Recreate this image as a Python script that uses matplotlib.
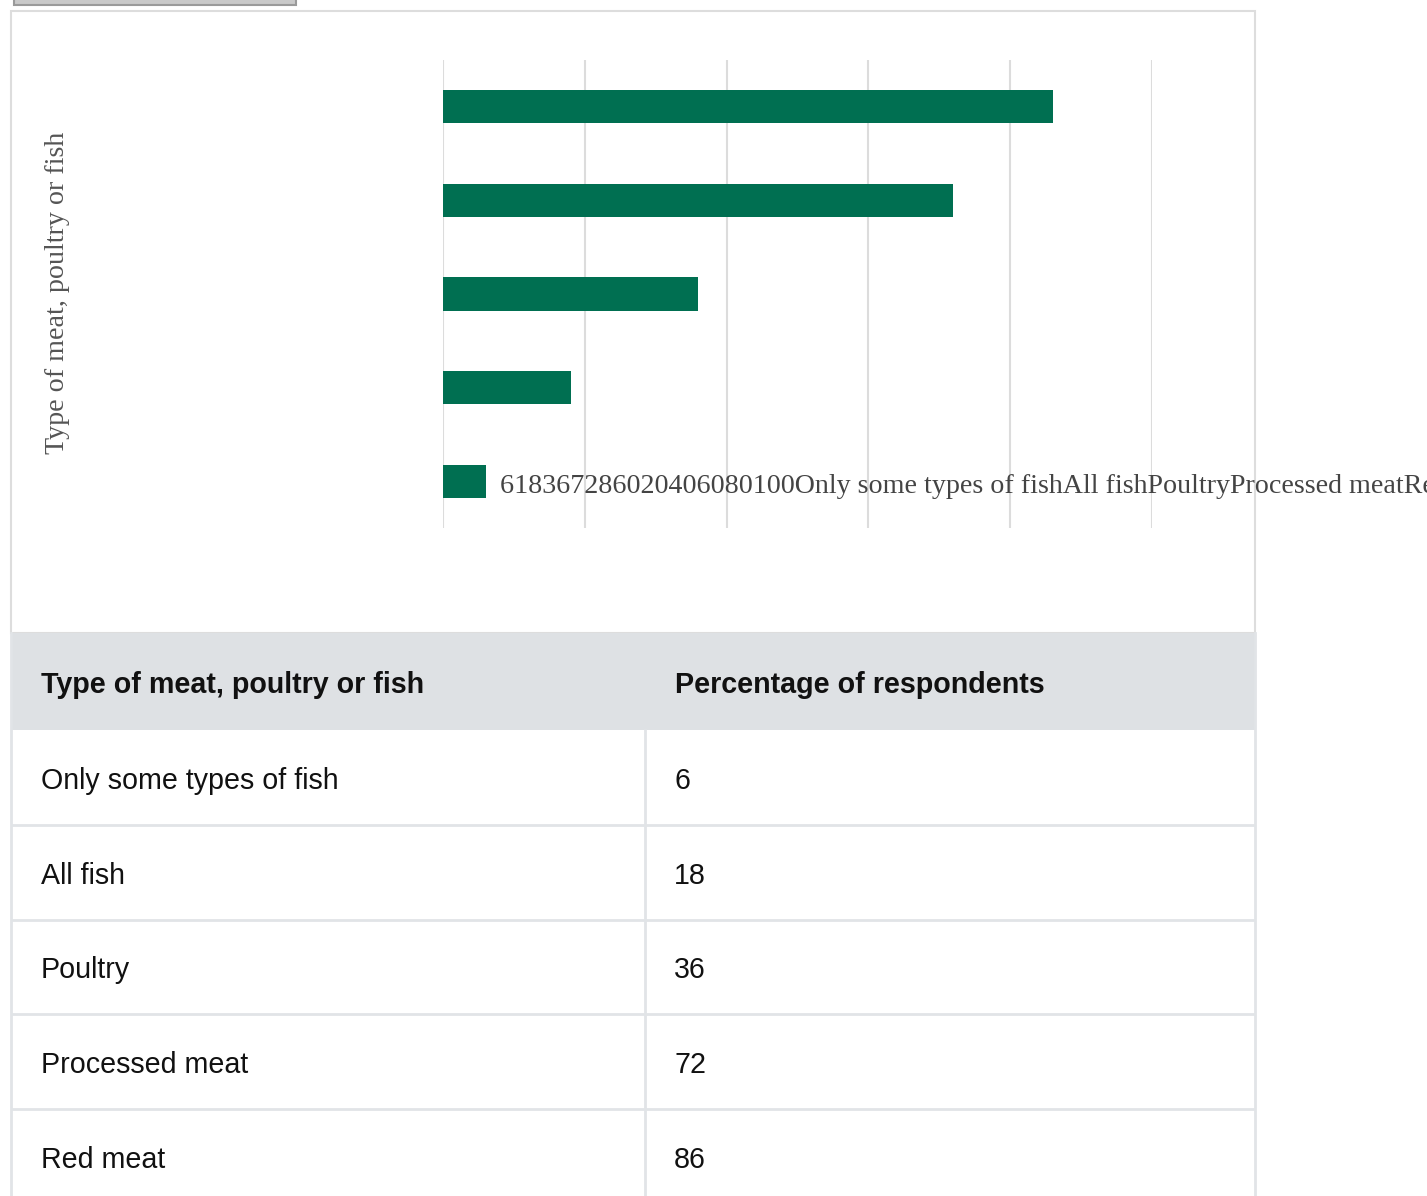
import matplotlib
matplotlib.use("Agg")
import matplotlib.pyplot as plt
from matplotlib.patches import Rectangle

# Share of respondents who avoid each type of meat, poultry or fish
categories = ["Only some types of fish", "All fish", "Poultry", "Processed meat", "Red meat"]
values = [6, 18, 36, 72, 86]
x_ticks = [0, 20, 40, 60, 80, 100]
axis_title = "Type of meat, poultry or fish"
value_header = "Percentage of respondents"

W, H = 1427, 1196
BAR_COLOR = "#006f51"
GRID_COLOR = "#dcdcdc"
LINE_COLOR = "#e1e4e7"
TABLE_FS = 20.6

fig = plt.figure(figsize=(W / 100, H / 100), dpi=100)
fig.patch.set_facecolor("white")

# Background layer in pixel coordinates for frames, table and button
bg = fig.add_axes([0, 0, 1, 1])
bg.set_xlim(0, W)
bg.set_ylim(H, 0)
bg.axis("off")

# Toolbar button stub at the very top
bg.add_patch(Rectangle((14, -4), 282, 9, facecolor="#c9c9c9", edgecolor="#9a9a9a", lw=1.5))

# Chart frame
bg.add_patch(Rectangle((11, 11), 1244, 622, facecolor="white", edgecolor="#dddddd", lw=1.5))

# Table header
bg.add_patch(Rectangle((11, 633), 1244, 97, facecolor="#dee1e4", edgecolor="none"))
bg.text(41, 685, axis_title, fontsize=TABLE_FS, fontweight="bold", family="Liberation Sans",
        va="center", ha="left", color="#111111")
bg.text(675, 685, value_header, fontsize=TABLE_FS, fontweight="bold", family="Liberation Sans",
        va="center", ha="left", color="#111111")

# Table body rows
row_top = 730
row_h = 94.8
for i, (cat, val) in enumerate(zip(categories, values)):
    y0 = row_top + i * row_h
    yc = y0 + row_h / 2 + 3.5
    if i > 0:
        bg.plot([11, 1255], [y0, y0], color=LINE_COLOR, lw=2, solid_capstyle="butt")
    bg.text(41, yc, cat, fontsize=TABLE_FS, family="Liberation Sans", va="center", ha="left",
            color="#111111")
    bg.text(674, yc, str(val), fontsize=TABLE_FS, family="Liberation Sans", va="center", ha="left",
            color="#111111")

# Table vertical borders
bg.plot([11, 11], [633, H], color=LINE_COLOR, lw=2)
bg.plot([645, 645], [730, H], color=LINE_COLOR, lw=2)
bg.plot([1255, 1255], [633, H], color=LINE_COLOR, lw=2)

# Bar chart
ax = fig.add_axes([443 / W, 1 - 528 / H, (1152 - 443) / W, (528 - 60) / H])
ypos = list(range(len(categories)))
ax.barh(ypos, values, height=0.355, color=BAR_COLOR)
ax.set_xlim(x_ticks[0], x_ticks[-1])
ax.set_ylim(-0.5, len(categories) - 0.5)
ax.set_xticks(x_ticks)
ax.grid(axis="x", color=GRID_COLOR, lw=1.5)
ax.set_axisbelow(True)
ax.tick_params(left=False, bottom=False, labelleft=False, labelbottom=False)
for s in ax.spines.values():
    s.set_visible(False)
ax.patch.set_alpha(0)

# Run-together labels: values, tick values, then category names
run_label = "".join(str(v) for v in values) + "".join(str(t) for t in x_ticks) + "".join(categories)
fig.text(500 / W, 1 - 486 / H, run_label, fontsize=20.2, family="Liberation Serif",
         color="#444444", va="center", ha="left")

# Rotated axis title
fig.text(58 / W, 1 - 293 / H, axis_title, fontsize=20.2, family="Liberation Serif",
         color="#555555", rotation=90, va="center", ha="center")

fig.savefig("out.png", dpi=100, facecolor="white")
